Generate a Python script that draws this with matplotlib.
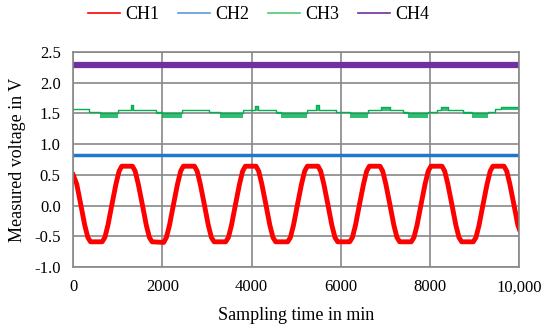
import matplotlib.pyplot as plt
from matplotlib.lines import Line2D

plt.rcParams['font.family'] = ['Liberation Serif', 'DejaVu Serif']

# CH1 - slow oscillation, key points
ch1_t = [0, 80, 170, 260, 330, 390,
         650, 710, 780, 870, 960, 1030, 1090,
         1330, 1390, 1460, 1550, 1640, 1710, 1770,
         2030, 2090, 2160, 2250, 2340, 2410, 2470,
         2720, 2780, 2850, 2940, 3030, 3100, 3160,
         3420, 3480, 3550, 3640, 3730, 3800, 3860,
         4100, 4160, 4230, 4320, 4410, 4480, 4540,
         4810, 4870, 4940, 5030, 5120, 5190, 5250,
         5490, 5550, 5620, 5710, 5800, 5870, 5930,
         6200, 6260, 6330, 6420, 6510, 6580, 6640,
         6880, 6940, 7010, 7100, 7190, 7260, 7320,
         7580, 7640, 7710, 7800, 7890, 7960, 8020,
         8270, 8330, 8400, 8490, 8580, 8650, 8710,
         8970, 9030, 9100, 9190, 9280, 9350, 9410,
         9660, 9720, 9790, 9880, 9970, 10000]
ch1_v = [0.50, 0.35, 0.02, -0.32, -0.52, -0.59,
         -0.59, -0.52, -0.32, 0.02, 0.35, 0.56, 0.64,
         0.64, 0.56, 0.35, 0.02, -0.32, -0.52, -0.59,
         -0.60, -0.52, -0.32, 0.02, 0.35, 0.56, 0.64,
         0.64, 0.56, 0.35, 0.02, -0.32, -0.52, -0.59,
         -0.59, -0.52, -0.32, 0.02, 0.35, 0.56, 0.64,
         0.64, 0.56, 0.35, 0.02, -0.32, -0.52, -0.59,
         -0.59, -0.52, -0.32, 0.02, 0.35, 0.56, 0.64,
         0.64, 0.56, 0.35, 0.02, -0.32, -0.52, -0.59,
         -0.59, -0.52, -0.32, 0.02, 0.35, 0.56, 0.64,
         0.64, 0.56, 0.35, 0.02, -0.32, -0.52, -0.59,
         -0.59, -0.52, -0.32, 0.02, 0.35, 0.56, 0.64,
         0.64, 0.56, 0.35, 0.02, -0.32, -0.52, -0.59,
         -0.59, -0.52, -0.32, 0.02, 0.35, 0.56, 0.64,
         0.64, 0.56, 0.35, 0.02, -0.32, -0.38]

# CH2 - nearly constant
ch2_t = [0, 10000]
ch2_v = [0.82, 0.82]

# CH3 - steps with noisy bands (segment start, upper, lower)
ch3_t = [0, 350, 600, 1000, 1300, 1340, 1850, 2000, 2450, 3050, 3300,
         3800, 4080, 4140, 4550, 4650, 5250, 5450, 5510, 5900, 6200,
         6600, 6900, 7100, 7400, 7500, 7950, 8150, 8250, 8400, 8750,
         8950, 9300, 9450, 9600, 10000]
ch3_hi = [1.57, 1.53, 1.51, 1.56, 1.63, 1.56, 1.52, 1.51, 1.56, 1.53, 1.51,
          1.56, 1.62, 1.56, 1.52, 1.51, 1.56, 1.64, 1.56, 1.52, 1.51,
          1.56, 1.60, 1.56, 1.52, 1.51, 1.52, 1.56, 1.60, 1.56, 1.52,
          1.51, 1.53, 1.57, 1.61, 1.60]
ch3_lo = [1.55, 1.50, 1.42, 1.54, 1.54, 1.54, 1.49, 1.42, 1.54, 1.50, 1.42,
          1.54, 1.54, 1.54, 1.49, 1.42, 1.54, 1.54, 1.54, 1.50, 1.42,
          1.54, 1.54, 1.54, 1.49, 1.42, 1.50, 1.54, 1.54, 1.54, 1.49,
          1.43, 1.50, 1.55, 1.55, 1.55]

# CH4 - nearly constant
ch4_t = [0, 10000]
ch4_v = [2.28, 2.28]

red = '#FF0000'
blue = '#1F78D0'
green = '#00B050'
purple = '#7030A0'

fig = plt.figure(figsize=(5.5, 3.35), dpi=100)
ax = fig.add_axes([0.133, 0.203, 0.811, 0.642])

ax.plot(ch4_t, ch4_v, color=purple, lw=4.5, solid_capstyle='butt')
ax.fill_between(ch3_t, ch3_lo, ch3_hi, step='post', color=green, alpha=0.8, lw=0)
ax.step(ch3_t, ch3_hi, where='post', color=green, lw=1)
ax.plot(ch2_t, ch2_v, color=blue, lw=2.5, solid_capstyle='butt')
ax.plot(ch1_t, ch1_v, color=red, lw=3.5)

ax.set_xlim(0, 10000)
ax.set_ylim(-1.0, 2.5)
ax.set_xticks([0, 2000, 4000, 6000, 8000, 10000])
ax.set_xticklabels(['0', '2000', '4000', '6000', '8000', '10,000'])
ax.set_yticks([-1.0, -0.5, 0.0, 0.5, 1.0, 1.5, 2.0, 2.5])
ax.set_yticklabels(['-1.0', '-0.5', '0.0', '0.5', '1.0', '1.5', '2.0', '2.5'])
ax.tick_params(length=0, labelsize=12, pad=9)
ax.grid(True, color='#888888', lw=1.2)
ax.set_axisbelow(True)
for s in ax.spines.values():
    s.set_color('#888888')
    s.set_linewidth(1.2)
ax.set_xlabel('Sampling time in min', fontsize=13, labelpad=8)
ax.set_ylabel('Measured voltage in V', fontsize=13, labelpad=6)

handles = [Line2D([], [], color=red, lw=1.2),
           Line2D([], [], color='#5B9BD5', lw=1.2),
           Line2D([], [], color='#50C878', lw=1.2),
           Line2D([], [], color=purple, lw=1.2)]
fig.legend(handles, ['CH1', 'CH2', 'CH3', 'CH4'], loc='upper center',
           bbox_to_anchor=(0.47, 1.03), ncol=4, frameon=False, fontsize=13,
           handlelength=1.8, handletextpad=0.3, columnspacing=1.0)

fig.savefig('out.png', dpi=100)
